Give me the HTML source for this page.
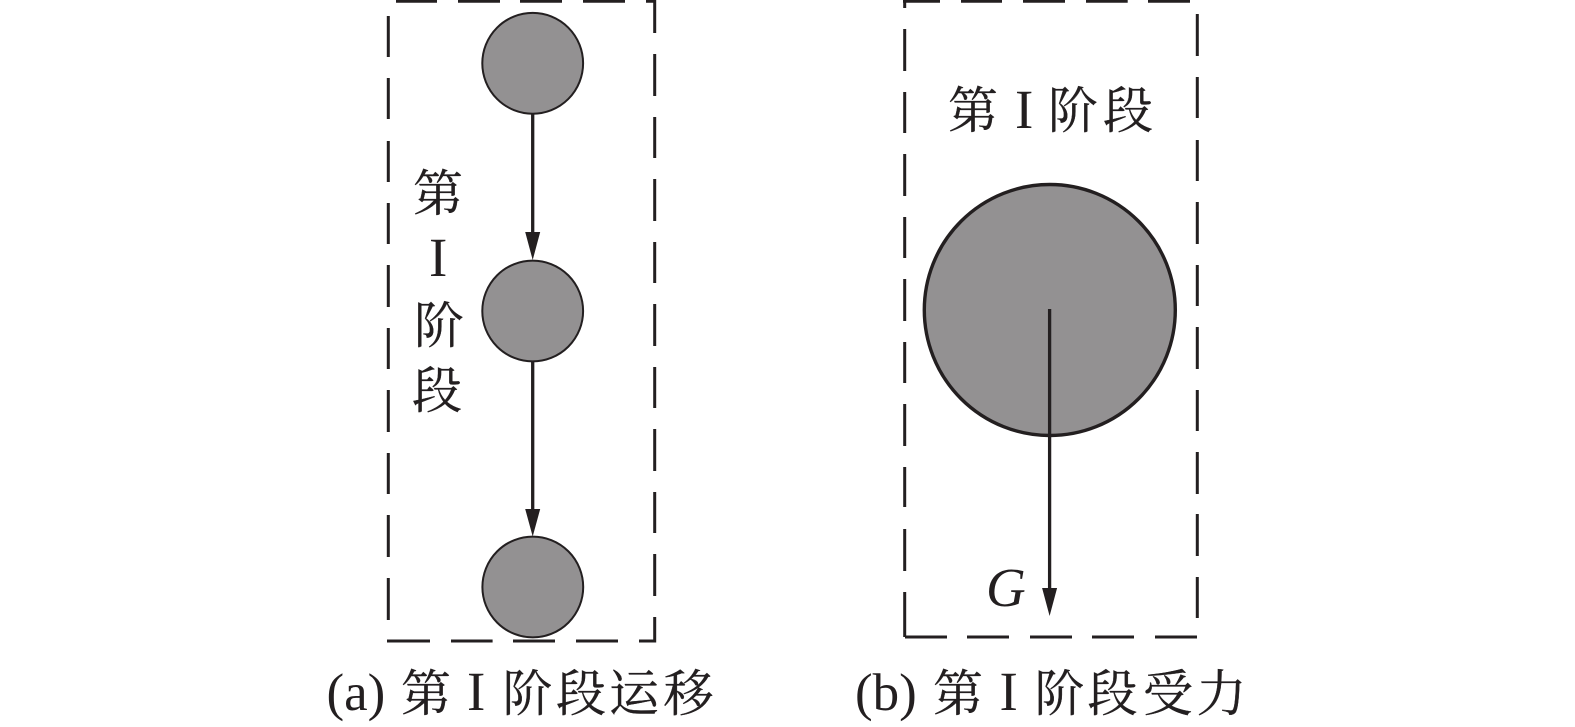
<!DOCTYPE html>
<html><head><meta charset="utf-8"><style>
html,body{margin:0;padding:0;background:#fff;width:1575px;height:727px;overflow:hidden}
svg{display:block}
text{fill:#231f20}
.c{font-family:"Liberation Serif","Noto Serif CJK SC",serif;font-size:50px;stroke:#231f20;stroke-width:.3px}
.l{font-family:"Liberation Serif",serif;font-size:55px}
.p{font-family:"Liberation Serif",serif;font-size:53px}
</style></head><body>
<svg width="1575" height="727" viewBox="0 0 1575 727" xmlns="http://www.w3.org/2000/svg">
<g stroke="#231f20" stroke-width="3" fill="none">
<path d="M396 1.2H437M458 1.2H500M520 1.2H562M583 1.2H625M646 1.2H654.7V33M654.7 54V96M654.7 117V158M654.7 179V221M654.7 242V283M654.7 304V346M654.7 367V408M654.7 429V471M654.7 492V533M654.7 554V596M654.7 617V641H639M618 641H576M555 641H513M492.6 641H451M430 641H387M388.3 620V578M388.3 557V515M388.3 494V453M388.3 432V390M388.3 369V328M388.3 307V265M388.3 244V203M388.3 182V141M388.3 119V78M388.3 57V16"/>
<path d="M903 1.2H940M961 1.2H1002M1023 1.2H1065M1086 1.2H1127.7M1148 1.2H1190M1197.3 14V56M1197.3 77V118M1197.3 140V181M1197.3 202V244M1197.3 265V306M1197.3 327V369M1197.3 390V431M1197.3 452V494M1197.3 514V556M1197.3 577V618M1197 637H1155M1134 637H1092M1072 637H1030M1009 637H967M947 637H905M904.7 637V592M904.7 571V529M904.7 507V467M904.7 446V404M904.7 383V342M904.7 321V279M904.7 258V217M904.7 196V154M904.7 133V92M904.7 71V29M904.7 8V1"/>
</g>
<g fill="#939192" stroke="#231f20" stroke-width="2">
<circle cx="532.7" cy="63.3" r="50.4"/>
<circle cx="532.7" cy="311" r="50.4"/>
<circle cx="532.8" cy="587" r="50.4"/>
<circle cx="1049.8" cy="310" r="125.5" stroke-width="3.4"/>
</g>
<g stroke="#231f20" stroke-width="3.3" fill="none">
<path d="M532.7 114V235"/>
<path d="M532.7 361V512"/>
<path d="M1049.6 309V590"/>
</g>
<g fill="#231f20">
<path d="M525.2 232H540.2L532.7 260Z"/>
<path d="M525.2 509H540.2L532.7 536.5Z"/>
<path d="M1042.1 588H1057.1L1049.6 616Z"/>
</g>
<text class="c" x="413" y="211">第</text>
<text class="l" x="429" y="276">I</text>
<text class="c" x="414" y="343">阶</text>
<text class="c" x="412" y="408">段</text>

<text class="c" x="948" y="128">第</text>
<text class="l" x="1015" y="128">I</text>
<text class="c" x="1048" y="128">阶</text>
<text class="c" x="1103" y="128">段</text>

<text class="l" x="986" y="606" font-style="italic">G</text>

<text class="p" x="326.5" y="710">(a)</text>
<text class="c" x="401" y="711">第</text>
<text class="l" x="467" y="710">I</text>
<text class="c" x="502.5" y="711">阶</text>
<text class="c" x="556" y="711">段</text>
<text class="c" x="609" y="711">运</text>
<text class="c" x="663.5" y="711">移</text>

<text class="p" x="855" y="710">(b)</text>
<text class="c" x="933" y="711">第</text>
<text class="l" x="999.5" y="710">I</text>
<text class="c" x="1034.5" y="711">阶</text>
<text class="c" x="1087.5" y="711">段</text>
<text class="c" x="1143" y="711">受</text>
<text class="c" x="1196.5" y="711">力</text>
</svg>
</body></html>
